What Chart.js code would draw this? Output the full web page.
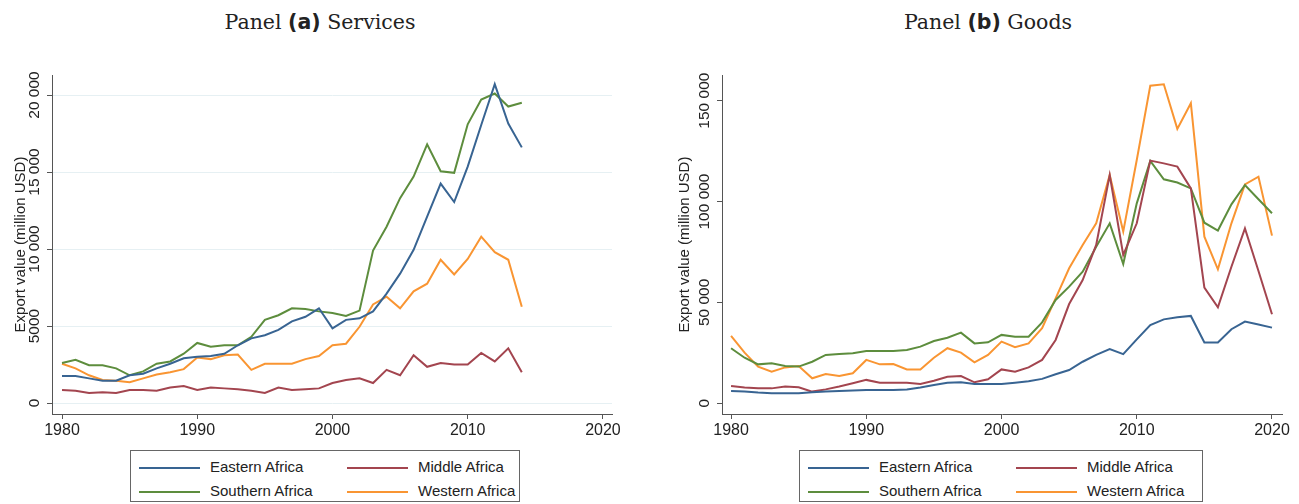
<!DOCTYPE html>
<html lang="en">
<head>
<meta charset="UTF-8">
<title>African exports by region</title>
<script src="https://cdn.jsdelivr.net/npm/chart.js"></script>
<style>
  body { margin: 0; background: #fff; width: 1299px; height: 504px; position: relative; overflow: hidden;
         font-family: "Liberation Sans", Arial, sans-serif; color: #222; }
  .title { position: absolute; top: 8px; width: 300px; text-align: center; font-family: "DejaVu Serif", serif;
           font-size: 20.5px; line-height: 28px; color: #222; }
  .title b { font-family: "DejaVu Sans", sans-serif; }
  canvas { position: absolute; }
  .legend { position: absolute; top: 450px; height: 52px; border: 1px solid #666; box-sizing: border-box; }
  .legend .item { position: absolute; height: 20px; line-height: 20px; font-size: 15px; white-space: nowrap; }
  .legend .swatch { display: inline-block; width: 61px; height: 2px; vertical-align: middle; margin-right: 10px; }
</style>
</head>
<body>

<div class="title" style="left:170px">Panel <b>(a)</b> Services</div>
<div class="title" style="left:838px">Panel <b>(b)</b> Goods</div>

<canvas id="servicesChart" width="650" height="400" style="left:0;top:50px"></canvas>
<canvas id="goodsChart" width="639" height="400" style="left:660px;top:50px"></canvas>

<div class="legend" id="legendA" style="left:130px;width:390px"></div>
<div class="legend" id="legendB" style="left:799px;width:404px"></div>

<script>
// regions and colours
const regions = ['Eastern Africa', 'Middle Africa', 'Southern Africa', 'Western Africa'];
const regionColors = ['#386492', '#a3454f', '#5d8d3d', '#f99532'];

// tick values
const yearTicks = [1980, 1990, 2000, 2010, 2020];
const servicesTicks = [0, 5000, 10000, 15000, 20000];
const goodsTicks = [0, 50000, 100000, 150000];

// services, 1980-2014 (million USD)
const servicesYears = [1980, 1981, 1982, 1983, 1984, 1985, 1986, 1987, 1988, 1989,
                       1990, 1991, 1992, 1993, 1994, 1995, 1996, 1997, 1998, 1999,
                       2000, 2001, 2002, 2003, 2004, 2005, 2006, 2007, 2008, 2009,
                       2010, 2011, 2012, 2013, 2014];
const servicesEastern = [1750, 1750, 1600, 1450, 1450, 1800, 1900, 2250, 2550, 2900,
                         3000, 3050, 3200, 3750, 4200, 4400, 4750, 5300, 5600, 6150,
                         4850, 5400, 5500, 5950, 7100, 8400, 9950, 12100, 14250, 13050,
                         15350, 18050, 20700, 18150, 16600];
const servicesMiddle = [850, 800, 650, 700, 650, 850, 850, 800, 1000, 1100,
                        850, 1000, 950, 900, 800, 650, 1000, 850, 900, 950,
                        1300, 1500, 1600, 1300, 2150, 1800, 3100, 2350, 2600, 2500,
                        2500, 3250, 2700, 3550, 2000];
const servicesSouthern = [2600, 2800, 2450, 2450, 2250, 1800, 2050, 2550, 2700, 3200,
                          3900, 3650, 3750, 3750, 4300, 5400, 5700, 6150, 6100, 5950,
                          5850, 5650, 6000, 9900, 11450, 13300, 14700, 16800, 15050, 14950,
                          18100, 19700, 20100, 19250, 19500];
const servicesWestern = [2550, 2250, 1800, 1500, 1450, 1350, 1600, 1850, 2000, 2200,
                         2950, 2850, 3100, 3150, 2150, 2550, 2550, 2550, 2850, 3050,
                         3750, 3850, 4950, 6400, 6900, 6150, 7250, 7750, 9300, 8350,
                         9350, 10800, 9800, 9300, 6250];

// goods, 1980-2020 (million USD)
const goodsYears = [1980, 1981, 1982, 1983, 1984, 1985, 1986, 1987, 1988, 1989,
                    1990, 1991, 1992, 1993, 1994, 1995, 1996, 1997, 1998, 1999,
                    2000, 2001, 2002, 2003, 2004, 2005, 2006, 2007, 2008, 2009,
                    2010, 2011, 2012, 2013, 2014, 2015, 2016, 2017, 2018, 2019,
                    2020];
const goodsEastern = [6100, 5800, 5300, 5000, 5000, 5000, 5500, 5800, 6100, 6300,
                      6600, 6600, 6600, 6900, 7800, 9100, 10200, 10400, 9600, 9600,
                      9600, 10200, 10900, 12100, 14400, 16500, 20600, 24000, 26900, 24400,
                      31700, 38800, 41600, 42600, 43300, 30100, 30100, 36700, 40500, 39100,
                      37500];
const goodsMiddle = [8600, 7800, 7400, 7400, 8300, 7900, 5800, 6900, 8300, 9900,
                     11600, 10200, 10200, 10200, 9600, 11200, 13200, 13500, 10400, 11900,
                     16800, 15700, 17800, 21500, 31400, 49200, 61100, 78500, 113100, 73500,
                     89200, 120300, 118900, 117300, 106500, 57300, 47600, 67700, 86700, 65600,
                     44100];
const goodsSouthern = [27300, 22600, 19300, 19800, 18500, 18200, 20600, 24000, 24400, 24800,
                       25900, 25900, 25900, 26400, 28100, 30900, 32500, 35000, 29700, 30200,
                       33900, 33000, 33000, 40100, 51200, 57800, 65200, 77600, 89200, 69000,
                       99100, 120100, 111000, 109400, 106500, 89500, 85600, 98600, 108200, 101100,
                       94200];
const goodsWestern = [33400, 25100, 18200, 15700, 17800, 18500, 12400, 14500, 13500, 14900,
                      21500, 19300, 19500, 16800, 16800, 22600, 27300, 25100, 20300, 24000,
                      30600, 27800, 29700, 37200, 52000, 66900, 78500, 89200, 113100, 85100,
                      120600, 157400, 158100, 136000, 148700, 82600, 66400, 89200, 108500, 112300,
                      83100];

const yTitle = 'Export value (million USD)';
const fontFamily = '"Liberation Sans", Arial, sans-serif';
const tickFont = { family: fontFamily, size: 15.5 };
const xTickFont = { family: fontFamily, size: 16 };
const titleFont = { family: fontFamily, size: 15 };

// "20 000" style labels, plain for 4 digits
function fmtNum(v) {
    if (v >= 10000) {
        const s = String(v);
        return s.slice(0, s.length - 3) + ' ' + s.slice(-3);
    }
    return String(v);
}

function textWidth(txt) {
    const c = document.createElement('canvas').getContext('2d');
    c.font = tickFont.size + 'px ' + fontFamily;
    return c.measureText(txt).width;
}

function makePanel(id, years, series, yTicks, p) {
    const ctx = document.getElementById(id).getContext('2d');
    // rotated y labels are centred, so pull them back towards the axis
    const widest = Math.max(...yTicks.map(v => textWidth(fmtNum(v))));
    const yPad = 12 - widest / 2;

    return new Chart(ctx, {
        type: 'line',
        data: {
            datasets: series.map((vals, i) => ({
                label: regions[i],
                data: years.map((yr, k) => ({ x: yr, y: vals[k] })),
                borderColor: regionColors[i],
                borderWidth: 2,
                pointRadius: 0,
                tension: 0,
                fill: false
            }))
        },
        options: {
            responsive: false,
            animation: false,
            layout: { padding: { top: 25, right: p.padRight, left: 0, bottom: 0 } },
            plugins: { legend: { display: false }, tooltip: { enabled: false } },
            scales: {
                x: {
                    type: 'linear',
                    min: p.xMin,
                    max: p.xMax,
                    afterBuildTicks: s => { s.ticks = yearTicks.map(v => ({ value: v })); },
                    ticks: { color: '#222', font: xTickFont, padding: 2, maxRotation: 0,
                             callback: v => String(v) },
                    grid: { drawOnChartArea: false, tickLength: 5, color: '#555' },
                    border: { color: '#555', width: 1 },
                    afterFit: s => { s.height = 36; }
                },
                y: {
                    min: p.yMin,
                    max: p.yMax,
                    afterBuildTicks: s => { s.ticks = yTicks.map(v => ({ value: v })); },
                    ticks: { color: '#222', font: tickFont,
                             minRotation: 90, maxRotation: 90, crossAlign: 'center', padding: yPad,
                             autoSkip: false, callback: v => fmtNum(v) },
                    grid: { drawOnChartArea: p.grid, color: '#e6f0f3', tickColor: '#555', tickLength: 5 },
                    border: { color: '#555', width: 1 },
                    title: { display: true, text: yTitle, color: '#222', font: titleFont,
                             padding: { top: p.titlePad, bottom: 0 } },
                    afterFit: s => { s.width = p.yWidth; }
                }
            }
        }
    });
}

makePanel('servicesChart', servicesYears,
    [servicesEastern, servicesMiddle, servicesSouthern, servicesWestern], servicesTicks,
    { xMin: 1979.26, xMax: 2020.67, yMin: -714, yMax: 21300,
      yWidth: 52, padRight: 38, titlePad: 12, grid: true });

makePanel('goodsChart', goodsYears,
    [goodsEastern, goodsMiddle, goodsSouthern, goodsWestern], goodsTicks,
    { xMin: 1979.33, xMax: 2020.74, yMin: -5300, yMax: 162700,
      yWidth: 62, padRight: 17, titlePad: 16, grid: false });

// legends: two columns, two rows
function buildLegend(elId) {
    const box = document.getElementById(elId);
    const cols = [8, 216];
    const rows = [6, 30];
    regions.forEach((name, i) => {
        const item = document.createElement('div');
        item.className = 'item';
        item.style.left = cols[i % 2] + 'px';
        item.style.top = rows[Math.floor(i / 2)] + 'px';
        item.innerHTML = '<span class="swatch" style="background:' + regionColors[i] + '"></span>' + name;
        box.appendChild(item);
    });
}
buildLegend('legendA');
buildLegend('legendB');
</script>

</body>
</html>
